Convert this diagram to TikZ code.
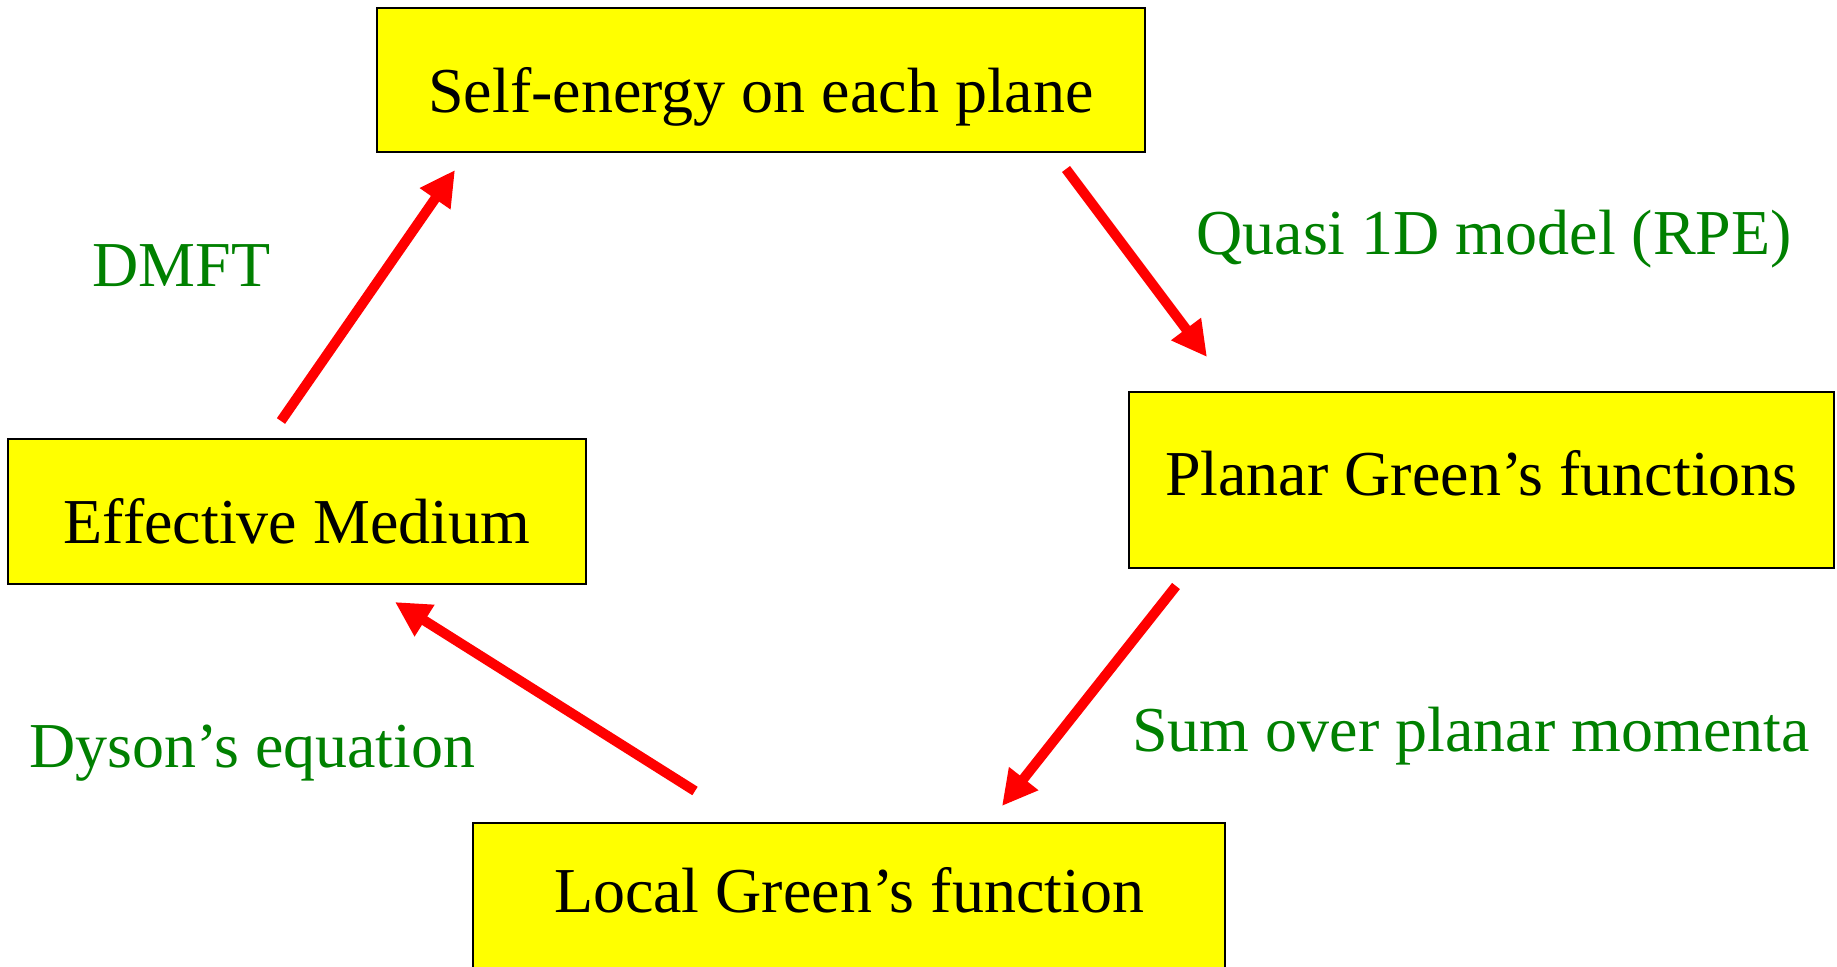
\documentclass[tikz,border=0pt]{standalone}
\usepackage{fontspec}
\setmainfont{Liberation Serif}
\usetikzlibrary{arrows.meta,calc}
\definecolor{boxyellow}{HTML}{FFFF00}
\definecolor{lblgreen}{HTML}{008000}
\definecolor{arrred}{HTML}{FF0000}
\begin{document}
\begin{tikzpicture}[x=0.5pt,y=-0.5pt,
  every node/.style={font=\fontsize{32pt}{38pt}\selectfont},
  box/.style={draw=black, line width=1pt, fill=boxyellow, rectangle, inner sep=0pt, text depth=0pt},
  lbl/.style={text=lblgreen, anchor=base west, inner sep=0pt},
  flow/.style={draw=arrred, line width=5pt, -{Triangle[length=17.5pt,width=17.5pt]}}]
\useasboundingbox (0,0) rectangle (1837,966);
\clip (0,0) rectangle (1837,966);
% boxes
\node[box, minimum width=768*0.5pt, minimum height=144*0.5pt, text height=32pt] (top) at (761,80) {Self-energy on each plane};
\node[box, minimum width=705*0.5pt, minimum height=176*0.5pt, text height=15pt] (right) at (1481.5,480) {Planar Green’s functions};
\node[box, minimum width=578*0.5pt, minimum height=145*0.5pt, text height=31.5pt] (left) at (297,511.5) {Effective Medium};
\node[box, minimum width=752*0.5pt, minimum height=160*0.5pt, text height=9pt] (bottom) at (849,903) {Local Green’s function};
% labels
\node[lbl] (lq) at (1196,254) {Quasi 1D model (RPE)};
\node[lbl] (ld) at (92,286) {DMFT};
\node[lbl] (ly) at (29,767) {Dyson’s equation};
\node[lbl] (ls) at (1132,751) {Sum over planar momenta};
% connectors
\coordinate (a1s) at ($(top.south east)+(-80,16)$);
\coordinate (a1e) at ($(right.north west)+(79,-34)$);
\coordinate (a2s) at ($(left.north)+(-16,-17)$);
\coordinate (a2e) at ($(top.south west)+(79,17)$);
\coordinate (a3s) at ($(right.south west)+(48,17)$);
\coordinate (a3e) at ($(bottom.north)+(153,-16)$);
\coordinate (a4s) at ($(bottom.north west)+(223,-31)$);
\coordinate (a4e) at ($(left.south east)+(-192,17)$);
\draw[flow] (a1s) -- (a1e);
\draw[flow] (a2s) -- (a2e);
\draw[flow] (a3s) -- (a3e);
\draw[flow] (a4s) -- (a4e);
\end{tikzpicture}
\end{document}
